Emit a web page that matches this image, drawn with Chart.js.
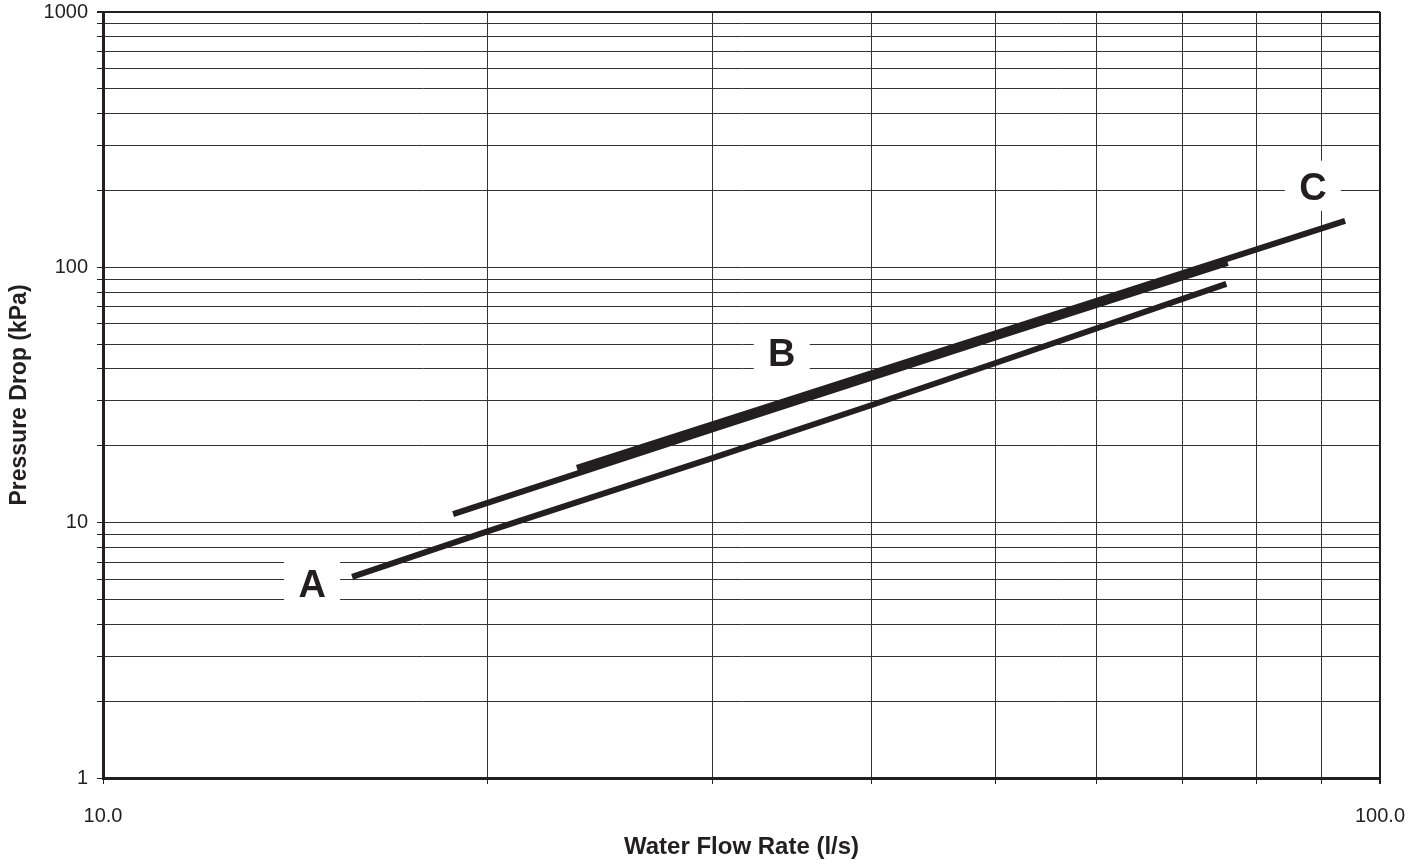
<!DOCTYPE html>
<html>
<head>
<meta charset="utf-8">
<script src="https://cdn.jsdelivr.net/npm/chart.js@4"></script>
<style>
	body { margin: 0; background: #fff; }
	#wrap { width: 1424px; height: 867px; }
</style>
</head>
<body>
<div id="wrap"><canvas id="myChart"></canvas></div>
<script>
	// flow rate (l/s) and pressure drop (kPa)
	var flowA = [15.67, 20, 30, 40, 50, 75.8];
	var dropA = [6.13, 9.25, 17.9, 28.9, 42.2, 86.1];
	var flowB = [18.8, 30, 50, 76];
	var dropB = [10.8, 23.2, 53.2, 104];
	var flowC = [23.5, 50, 93.9];
	var dropC = [16.4, 55.1, 152];

	var xGridValues = [10, 20, 30, 40, 50, 60, 70, 80, 90, 100];
	var yGridValues = [1, 2, 3, 4, 5, 6, 7, 8, 9, 10, 20, 30, 40, 50, 60, 70, 80, 90,
		100, 200, 300, 400, 500, 600, 700, 800, 900, 1000];
	var xTickLabels = [10, 100];
	var yTickLabels = [1, 10, 100, 1000];

	// curve names, placed at (flow, drop)
	var curveNames = ['A', 'B', 'C'];
	var nameFlow = [14.58, 34.0, 88.6];
	var nameDrop = [5.75, 45.8, 205];

	var ink = '#231f20';

	function pts(xs, ys) {
		var out = [];
		for (var i = 0; i < xs.length; i++) {
			out.push({ x: xs[i], y: ys[i] });
		}
		return out;
	}

	function curve(label, xs, ys) {
		return {
			label: label,
			data: pts(xs, ys),
			borderColor: ink,
			borderWidth: 6,
			borderCapStyle: 'butt',
			pointRadius: 0,
			fill: false,
			tension: 0
		};
	}

	function setTicks(values) {
		return function(scale) {
			scale.ticks = values.map(function(v) { return { value: v }; });
		};
	}

	var namePlugin = {
		id: 'curveNames',
		afterDatasetsDraw: function(chart) {
			var c = chart.ctx;
			var xs = chart.scales.x, ys = chart.scales.y;
			c.save();
			c.font = 'bold 38px Arial, "Liberation Sans"';
			c.textAlign = 'center';
			c.textBaseline = 'middle';
			for (var i = 0; i < curveNames.length; i++) {
				var px = xs.getPixelForValue(nameFlow[i]);
				var py = ys.getPixelForValue(nameDrop[i]);
				c.fillStyle = '#fff';
				c.fillRect(px - 28, py - 27, 56, 50);
				c.fillStyle = ink;
				c.fillText(curveNames[i], px, py + 2);
			}
			c.restore();
		}
	};

	Chart.defaults.font.family = 'Arial, "Liberation Sans", sans-serif';
	Chart.defaults.color = ink;

	var config = {
		type: 'line',
		data: {
			datasets: [
				curve('A', flowA, dropA),
				curve('B', flowB, dropB),
				curve('C', flowC, dropC)
			]
		},
		options: {
			responsive: true,
			maintainAspectRatio: false,
			animation: false,
			layout: { padding: { top: 12, right: 44, left: 0, bottom: 0 } },
			plugins: {
				legend: { display: false },
				tooltip: { enabled: false }
			},
			scales: {
				x: {
					type: 'logarithmic',
					min: 10,
					max: 100,
					afterBuildTicks: setTicks(xGridValues),
					afterFit: function(s) {
						s.height = 89;
						s.paddingLeft = 0;
						s.paddingRight = 0;
					},
					border: { color: ink, width: 3 },
					grid: {
						color: function(ctx) { return ctx.tick && ctx.tick.value === 100 ? ink : '#333'; },
						lineWidth: function(ctx) { return ctx.tick && ctx.tick.value === 100 ? 2 : 1; },
						tickColor: ink,
						tickLength: 6
					},
					ticks: {
						autoSkip: false,
						maxRotation: 0,
						padding: 20,
						font: { size: 20 },
						callback: function(v) {
							return xTickLabels.indexOf(v) >= 0 ? v.toFixed(1) : '';
						}
					},
					title: {
						display: true,
						text: 'Water Flow Rate (l/s)',
						font: { size: 24, weight: 'bold' },
						padding: { top: 0, bottom: 5 }
					}
				},
				y: {
					type: 'logarithmic',
					min: 1,
					max: 1000,
					afterBuildTicks: setTicks(yGridValues),
					afterFit: function(s) {
						s.width = 103;
						s.paddingTop = 0;
						s.paddingBottom = 0;
					},
					border: { color: ink, width: 3 },
					grid: {
						color: function(ctx) { return ctx.tick && ctx.tick.value === 1000 ? ink : '#333'; },
						lineWidth: function(ctx) { return ctx.tick && ctx.tick.value === 1000 ? 2 : 1; },
						tickColor: ink,
						tickLength: 6
					},
					ticks: {
						autoSkip: false,
						padding: 9,
						font: { size: 20 },
						callback: function(v) {
							return yTickLabels.indexOf(v) >= 0 ? String(v) : '';
						}
					},
					title: {
						display: true,
						text: 'Pressure Drop (kPa)',
						font: { size: 23, weight: 'bold' },
						padding: { top: 6, bottom: 0 }
					}
				}
			}
		},
		plugins: [namePlugin]
	};

	var myChart = new Chart(document.getElementById('myChart'), config);
</script>
</body>
</html>
